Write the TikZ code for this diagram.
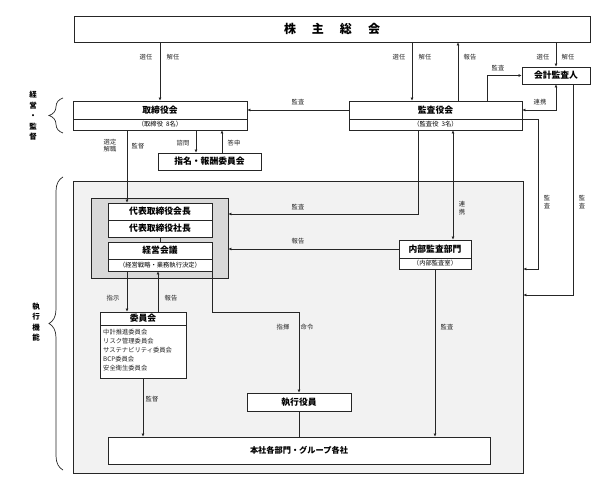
\documentclass[tikz,border=0pt]{standalone}
\usepackage{fontspec}
\setmainfont{Noto Sans CJK JP}
\usetikzlibrary{arrows.meta,decorations.pathreplacing}
\begin{document}
\begin{tikzpicture}[x=1pt,y=-1pt,
 ln/.style={line width=0.7pt, draw=black!85},
 arr/.style={ln, -{Latex[length=3pt,width=3pt]}},
 darr/.style={ln, {Latex[length=3pt,width=3pt]}-{Latex[length=3pt,width=3pt]}},
 box/.style={draw=black!85, line width=0.8pt, fill=white, inner sep=0pt, font=\fontsize{8.8}{10}\selectfont\bfseries},
 subbox/.style={box, font=\fontsize{6.3}{7}\selectfont},
 lbl/.style={inner sep=0pt, font=\fontsize{6.3}{7}\selectfont, text=black!85},
 vlbl/.style={lbl, align=center, font=\fontsize{6.3}{8.5}\selectfont},
 side/.style={inner sep=0pt, align=center, font=\fontsize{7.5}{10.5}\selectfont\bfseries},
 bracestyle/.style={draw=black!85, line width=0.7pt, decorate, decoration={brace, amplitude=14pt}}]
\useasboundingbox (0,0) rectangle (600,478);
% column / row helpers
\coordinate (X127) at (127,0);
\coordinate (X158) at (158,0);
\coordinate (X196) at (196,0);
\coordinate (X222) at (222,0);
\coordinate (X412) at (412,0);
\coordinate (X418) at (418,0);
\coordinate (X453) at (453,0);
\coordinate (X458) at (458,0);
\coordinate (X487) at (487,0);
\coordinate (X538) at (538,0);
\coordinate (X573) at (573,0);
\coordinate (Y214) at (0,214);
\coordinate (Y269) at (0,269);
\coordinate (Y295) at (0,295);
\coordinate (Y312) at (0,312);
% containers
\node[draw=black!85, line width=0.8pt, fill=black!5, minimum width=450pt, minimum height=292pt, inner sep=0pt] (outer) at (298,327) {};
\node[draw=black!85, line width=0.8pt, fill=black!15, minimum width=137pt, minimum height=80pt, inner sep=0pt] (gray) at (159.5,238) {};
% boxes
\node[box, minimum width=516pt, minimum height=26pt, font=\fontsize{12}{14}\selectfont\bfseries] (kabu) at (332,29) {株\hspace{16pt}主\hspace{16pt}総\hspace{16pt}会};
\node[box, minimum width=174pt, minimum height=18pt] (torih) at (160,110) {取締役会};
\node[subbox, minimum width=174pt, minimum height=11pt] (toris) at (160,124.5) {（取締役\hspace{3pt}8名）};
\node[box, minimum width=173pt, minimum height=18pt] (kansah) at (435.5,110) {監査役会};
\node[subbox, minimum width=173pt, minimum height=11pt] (kansas) at (435.5,124.5) {（監査役\hspace{3pt}3名）};
\node[box, minimum width=68pt, minimum height=17pt] (kaikei) at (556,75.5) {会計監査人};
\node[box, minimum width=103pt, minimum height=17pt] (shimei) at (209.5,161.5) {指名・報酬委員会};
\node[box, minimum width=104pt, minimum height=17pt] (kaicho) at (160,211.5) {代表取締役会長};
\node[box, minimum width=104pt, minimum height=17pt] (shacho) at (160,228.5) {代表取締役社長};
\node[box, minimum width=104pt, minimum height=17pt] (keieih) at (160,250.5) {経営会議};
\node[subbox, minimum width=104pt, minimum height=12pt] (keieis) at (160,265) {（経営戦略・業務執行決定）};
\node[box, minimum width=72pt, minimum height=18pt] (naibuh) at (435,249) {内部監査部門};
\node[subbox, minimum width=72pt, minimum height=11pt] (naibus) at (435,263.5) {（内部監査室）};
\node[box, minimum width=86pt, minimum height=13pt] (iinkaih) at (143,318.5) {委員会};
\node[box, minimum width=86pt, minimum height=53pt] (iinkaib) at (143,351.5) {};
\node[lbl, anchor=north west, align=left, font=\fontsize{6.3}{9}\selectfont] (iinlist) at (103,329) {中計推進委員会\\リスク管理委員会\\サステナビリティ委員会\\BCP委員会\\安全衛生委員会};
\node[box, minimum width=104pt, minimum height=18pt] (shikko) at (299,402) {執行役員};
\node[box, minimum width=382pt, minimum height=27pt, font=\fontsize{8.2}{10}\selectfont\bfseries] (honsha) at (299,450.5) {本社各部門・グループ各社};
% connectors
\draw[arr] (kabu.south -| torih.north) -- (torih.north);
\draw[arr] (kabu.south -| X412) -- (kansah.north -| X412);
\draw[arr] (kansah.north -| X458) -- (kabu.south -| X458);
\draw[arr] (kabu.south -| kaikei.north) -- (kaikei.north);
\draw[arr] (kansah.north -| X487) |- (kaikei.west);
\draw[darr] (kaikei.south) |- (kansah.east);
\draw[arr] (kansah.west) -- (torih.east);
\draw[arr] (toris.south -| X196) -- (shimei.north -| X196);
\draw[arr] (shimei.north -| X222) -- (toris.south -| X222);
\draw[arr] (toris.south -| X127) -- (kaicho.north -| X127);
\draw[arr] (kansas.south -| X418) |- (gray.east |- Y214);
\draw[darr] (kansas.south -| X453) -- (naibuh.north -| X453);
\draw[arr] (naibuh.west) -- (gray.east |- naibuh.west);
\draw[arr] (kansah.south east) -| (X538 |- Y269) -- (outer.east |- Y269);
\draw[arr] (kaikei.south -| X573) |- (outer.east |- Y295);
\draw[ln] (shacho.south) -- (keieih.north);
\draw[arr] (keieis.south -| X127) -- (iinkaih.north -| X127);
\draw[arr] (iinkaih.north -| X158) -- (keieis.south -| X158);
\draw[arr] (keieis.south east) -- (keieis.south east |- Y312) -| (shikko.north);
\draw[arr] (iinkaib.south) -- (honsha.north -| iinkaib.south);
\draw[ln] (shikko.south) -- (honsha.north -| shikko.south);
\draw[arr] (naibus.south) -- (honsha.north -| naibus.south);
% braces
\draw[bracestyle] (63,133) -- (63,98) coordinate (br1);
\draw[bracestyle] (63,470) -- (63,177) coordinate (br2);
\node[side] (keieikantoku) at (33,116) {経\\営\\・\\監\\督};
\node[side] (shikkokino) at (36,322) {執\\行\\機\\能};
% labels
\node[lbl] (l1) at (146,57) {選任};
\node[lbl] (l2) at (173,57) {解任};
\node[lbl] (l3) at (399,57) {選任};
\node[lbl] (l4) at (425,57) {解任};
\node[lbl] (l5) at (470,57) {報告};
\node[lbl] (l6) at (543,57) {選任};
\node[lbl] (l7) at (568,57) {解任};
\node[lbl] (l8) at (498,68) {監査};
\node[lbl] (l9) at (540,102) {連携};
\node[lbl] (l10) at (298,102) {監査};
\node[lbl] (l11) at (183,143) {諮問};
\node[lbl] (l12) at (234,143) {答申};
\node[lbl, align=center, font=\fontsize{6.3}{6.8}\selectfont] (l13) at (110,146) {選定\\解職};
\node[lbl] (l14) at (138,146) {監督};
\node[lbl] (l15) at (298,207) {監査};
\node[lbl] (l16) at (298,241) {報告};
\node[vlbl] (l17) at (462,208) {連\\携};
\node[vlbl] (l18) at (547,202) {監\\査};
\node[vlbl] (l19) at (582,202) {監\\査};
\node[lbl] (l20) at (113,298) {指示};
\node[lbl] (l21) at (171,298) {報告};
\node[lbl] (l22) at (283,327) {指揮};
\node[lbl] (l23) at (307,327) {命令};
\node[lbl] (l24) at (152,399) {監督};
\node[lbl] (l25) at (447,327) {監査};
\end{tikzpicture}
\end{document}
